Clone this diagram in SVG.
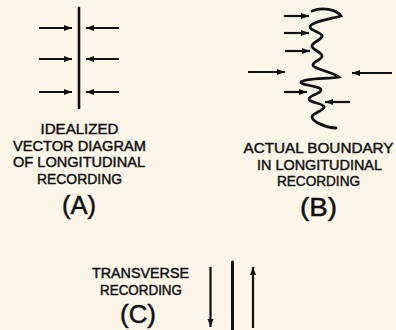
<svg xmlns="http://www.w3.org/2000/svg" width="396" height="330" viewBox="0 0 396 330">
<defs>
<marker id="ah" markerUnits="userSpaceOnUse" markerWidth="9" markerHeight="7" refX="8" refY="3" orient="auto">
<path d="M0,0 L8,3 L0,6 z" fill="#111"/>
</marker>
<style>
.bg{fill:#fbf6e8}
.ln{stroke:#111;fill:none;stroke-linecap:round}
.ar{stroke:#111;stroke-width:2.2;fill:none;marker-end:url(#ah)}
.t{font-family:"Liberation Sans",Arial,sans-serif;font-size:14px;fill:#111;stroke:#111;stroke-width:0.45;text-anchor:middle}
.big{font-family:"Liberation Sans",Arial,sans-serif;font-size:25px;fill:#111;stroke:#111;stroke-width:0.45;text-anchor:middle}
</style>
</defs>
<rect class="bg" x="0" y="0" width="396" height="330"/>

<g id="nodeA">
<line class="ln" x1="79" y1="8" x2="79" y2="108" stroke-width="2.6"/>
<text class="t" x="79.5" y="133.5" textLength="78" lengthAdjust="spacingAndGlyphs">IDEALIZED</text>
<text class="t" x="79.5" y="150.5" textLength="133" lengthAdjust="spacingAndGlyphs">VECTOR DIAGRAM</text>
<text class="t" x="79" y="166.5" textLength="132" lengthAdjust="spacingAndGlyphs">OF LONGITUDINAL</text>
<text class="t" x="79.5" y="183.5" textLength="85" lengthAdjust="spacingAndGlyphs">RECORDING</text>
<text class="big" x="79" y="214" textLength="34" lengthAdjust="spacingAndGlyphs">(A)</text>
</g>

<g id="nodeB">
<path class="ln" stroke-width="2.8" d="M312,11 C322,7 336,9 341,16 C330,19 310,22 310,27 C310,31 322,32 322,36 C322,40 312,42 312,46 C312,50 322,52 322,56 C322,60 313,61 313,65 C313,69 333,72 339,77 C330,79 305,78 301,82 C299,85 321,86 321,90 C321,94 309,95 309,99 C309,103 324,103 324,107 C324,111 312,113 312,117 C312,122 328,128 336,128"/>
<text class="t" x="318.5" y="153" textLength="150" lengthAdjust="spacingAndGlyphs">ACTUAL BOUNDARY</text>
<text class="t" x="319.5" y="169.5" textLength="125" lengthAdjust="spacingAndGlyphs">IN LONGITUDINAL</text>
<text class="t" x="318.5" y="186" textLength="83" lengthAdjust="spacingAndGlyphs">RECORDING</text>
<text class="big" x="318.5" y="216" textLength="37" lengthAdjust="spacingAndGlyphs">(B)</text>
</g>

<g id="nodeC">
<line class="ln" x1="232.5" y1="262" x2="232.5" y2="330" stroke-width="3"/>
<text class="t" x="140.5" y="278" textLength="97" lengthAdjust="spacingAndGlyphs">TRANSVERSE</text>
<text class="t" x="141" y="295" textLength="82" lengthAdjust="spacingAndGlyphs">RECORDING</text>
<text class="big" x="138" y="323" textLength="36" lengthAdjust="spacingAndGlyphs">(C)</text>
</g>

<g id="connectors">
<line class="ar" x1="39" y1="28" x2="72" y2="28"/>
<line class="ar" x1="39" y1="59" x2="72" y2="59"/>
<line class="ar" x1="39" y1="92" x2="72" y2="92"/>
<line class="ar" x1="119" y1="28" x2="86" y2="28"/>
<line class="ar" x1="119" y1="59" x2="86" y2="59"/>
<line class="ar" x1="119" y1="92" x2="86" y2="92"/>
<line class="ar" x1="284" y1="16" x2="309" y2="16"/>
<line class="ar" x1="284" y1="33" x2="309" y2="33"/>
<line class="ar" x1="285" y1="51" x2="310" y2="51"/>
<line class="ar" x1="248" y1="72" x2="285" y2="72"/>
<line class="ar" x1="392" y1="73" x2="352" y2="73"/>
<line class="ar" x1="284" y1="92" x2="307" y2="92"/>
<line class="ar" x1="350" y1="102" x2="325" y2="102"/>
<line class="ar" x1="210.5" y1="267" x2="210.5" y2="327"/>
<line class="ar" x1="253" y1="328" x2="253" y2="267"/>
</g>
</svg>
